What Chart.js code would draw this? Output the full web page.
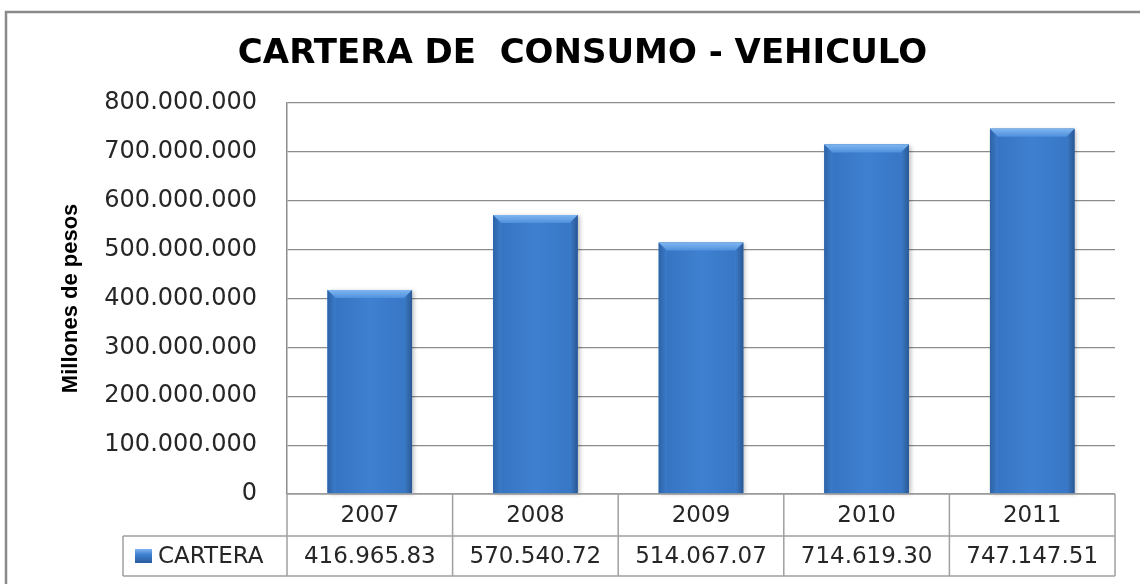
<!DOCTYPE html>
<html>
<head>
<meta charset="utf-8">
<script src="https://cdn.jsdelivr.net/npm/chart.js@4/dist/chart.umd.min.js"></script>
<style>
  html, body { margin: 0; padding: 0; background: #fff; overflow: hidden; }
  canvas { display: block; }
</style>
</head>
<body>
<canvas id="c" width="1140" height="584"></canvas>
<script>
// ---- data ----
const categories = ['2007', '2008', '2009', '2010', '2011'];
const seriesName = 'CARTERA';
const values = [416965830, 570540720, 514067070, 714619300, 747147510];
const tableLabels = ['416.965.83', '570.540.72', '514.067.07', '714.619.30', '747.147.51'];
const yTicks = [0, 100000000, 200000000, 300000000, 400000000, 500000000, 600000000, 700000000, 800000000];
const titleText = 'CARTERA DE  CONSUMO - VEHICULO';
const yTitle = 'Millones de pesos';

const fmt = v => String(v).replace(/\B(?=(\d{3})+(?!\d))/g, '.');

const TEXT = '#262626';
const GRID = '#8c8c8c';
const TABLE = '#a0a0a0';
const FONT = "'DejaVu Sans', sans-serif";

const framePlugin = {
  id: 'frame',
  beforeDraw(chart) {
    const ctx = chart.ctx;
    ctx.save();
    ctx.fillStyle = '#fff';
    ctx.fillRect(0, 0, chart.width, chart.height);
    ctx.strokeStyle = '#8a8a8a';
    ctx.lineWidth = 2.5;
    ctx.beginPath();
    ctx.moveTo(6, chart.height + 5);
    ctx.lineTo(6, 12);
    ctx.lineTo(chart.width + 5, 12);
    ctx.stroke();
    ctx.restore();
  }
};

const bevelPlugin = {
  id: 'bevel',
  afterDatasetDraw(chart, args) {
    const ctx = chart.ctx;
    const meta = args.meta;
    meta.data.forEach(bar => {
      const p = bar.getProps(['x', 'y', 'width', 'base'], true);
      const l = p.x - p.width / 2, r = p.x + p.width / 2, t = p.y, b = p.base;
      const bv = 8;
      ctx.save();
      ctx.shadowColor = 'rgba(0,0,0,0.25)';
      ctx.shadowBlur = 4;
      ctx.shadowOffsetX = 2;
      ctx.shadowOffsetY = 1;
      let g = ctx.createLinearGradient(l, 0, r, 0);
      g.addColorStop(0, '#3472bf');
      g.addColorStop(0.5, '#3f80d0');
      g.addColorStop(1, '#3675c4');
      ctx.fillStyle = g;
      ctx.fillRect(l, t, r - l, b - t);
      ctx.shadowColor = 'transparent';
      g = ctx.createLinearGradient(l, 0, l + bv, 0);
      g.addColorStop(0, '#2d62a6');
      g.addColorStop(1, '#3c7cca');
      ctx.fillStyle = g;
      ctx.beginPath();
      ctx.moveTo(l, t); ctx.lineTo(l + bv, t + bv); ctx.lineTo(l + bv, b); ctx.lineTo(l, b); ctx.closePath();
      ctx.fill();
      g = ctx.createLinearGradient(r - bv, 0, r, 0);
      g.addColorStop(0, '#3c7cca');
      g.addColorStop(1, '#2a5894');
      ctx.fillStyle = g;
      ctx.beginPath();
      ctx.moveTo(r, t); ctx.lineTo(r - bv, t + bv); ctx.lineTo(r - bv, b); ctx.lineTo(r, b); ctx.closePath();
      ctx.fill();
      g = ctx.createLinearGradient(0, t, 0, t + bv);
      g.addColorStop(0, '#7fb6f0');
      g.addColorStop(1, '#4f90dc');
      ctx.fillStyle = g;
      ctx.beginPath();
      ctx.moveTo(l, t); ctx.lineTo(r, t); ctx.lineTo(r - bv, t + bv); ctx.lineTo(l + bv, t + bv); ctx.closePath();
      ctx.fill();
      ctx.restore();
    });
  }
};

const tablePlugin = {
  id: 'dataTable',
  afterDraw(chart) {
    const ctx = chart.ctx;
    const xs = chart.scales.x;
    const area = chart.chartArea;
    const n = categories.length;
    const cw = (area.right - area.left) / n;
    const y0 = area.bottom, y1 = area.bottom + 42, y2 = area.bottom + 82;
    const legL = 123;
    ctx.save();
    ctx.strokeStyle = TABLE;
    ctx.lineWidth = 1.5;
    ctx.beginPath();
    ctx.moveTo(area.left, y0); ctx.lineTo(area.right, y0);
    ctx.moveTo(legL, y1); ctx.lineTo(area.right, y1);
    ctx.moveTo(legL, y2); ctx.lineTo(area.right, y2);
    ctx.moveTo(legL, y1); ctx.lineTo(legL, y2);
    for (let i = 0; i < n; i++) {
      const bx = xs.getPixelForValue(i) - cw / 2;
      ctx.moveTo(bx, y0); ctx.lineTo(bx, y2);
    }
    ctx.moveTo(area.right, y0); ctx.lineTo(area.right, y2);
    ctx.stroke();
    ctx.fillStyle = TEXT;
    ctx.font = '23px ' + FONT;
    ctx.textAlign = 'center';
    ctx.textBaseline = 'middle';
    for (let i = 0; i < n; i++) {
      const cx = xs.getPixelForValue(i);
      ctx.fillText(categories[i], cx, (y0 + y1) / 2 + 1);
      ctx.fillText(tableLabels[i], cx, (y1 + y2) / 2 + 1);
    }
    const ky = (y1 + y2) / 2;
    const g = ctx.createLinearGradient(0, ky - 7, 0, ky + 7);
    g.addColorStop(0, '#7fb3ee');
    g.addColorStop(0.4, '#3f80d0');
    g.addColorStop(1, '#2a5c9c');
    ctx.fillStyle = g;
    ctx.fillRect(135, ky - 7, 17, 14);
    ctx.fillStyle = TEXT;
    ctx.textAlign = 'left';
    ctx.fillText(seriesName, 158, ky + 1);
    ctx.restore();
  }
};

new Chart(document.getElementById('c'), {
  type: 'bar',
  data: {
    labels: categories,
    datasets: [{
      label: seriesName,
      data: values,
      backgroundColor: '#3f80d0',
      borderWidth: 0,
      barPercentage: 0.51,
      categoryPercentage: 1.0
    }]
  },
  options: {
    responsive: false,
    animation: false,
    layout: { padding: { left: 50, right: 25, top: 12, bottom: 90 } },
    plugins: {
      legend: { display: false },
      tooltip: { enabled: false },
      title: {
        display: true,
        text: titleText,
        color: '#000',
        font: { family: FONT, size: 34, weight: 'bold', lineHeight: 1.2 },
        padding: { top: 22, bottom: 28 }
      }
    },
    scales: {
      x: { display: false },
      y: {
        min: 0,
        max: 800000000,
        afterBuildTicks(scale) { scale.ticks = yTicks.map(v => ({ value: v })); },
        afterFit(scale) { scale.width = 237; },
        ticks: {
          padding: 30,
          color: TEXT,
          font: { family: FONT, size: 24 },
          callback: v => fmt(v)
        },
        grid: { color: GRID, lineWidth: 1.2, drawTicks: false },
        border: { display: true, color: GRID, width: 1.5 },
        title: {
          display: true,
          text: yTitle,
          color: '#000',
          font: { family: "'Liberation Sans', Arial, sans-serif", size: 22, weight: 'bold' },
          padding: { top: 8, bottom: 0 }
        }
      }
    }
  },
  plugins: [framePlugin, bevelPlugin, tablePlugin]
});
</script>
</body>
</html>
